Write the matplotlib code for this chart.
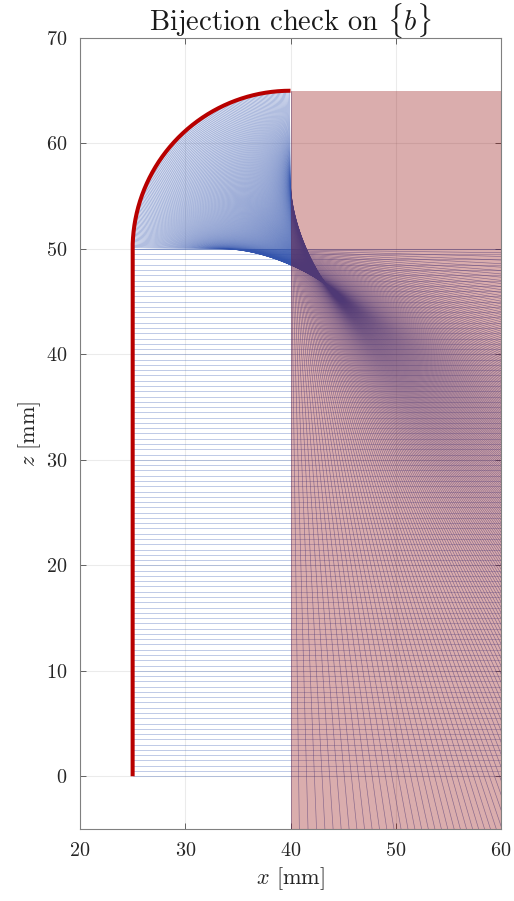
import numpy as np
import matplotlib
matplotlib.use("Agg")
import matplotlib.pyplot as plt
from matplotlib.collections import LineCollection
from matplotlib.patches import Rectangle

plt.rcParams['font.family'] = 'serif'
plt.rcParams['font.serif'] = ['cmr10']
plt.rcParams['mathtext.fontset'] = 'cm'
plt.rcParams['axes.formatter.use_mathtext'] = True

# geometry of curve {b} (mm)
wall_x = 25.0
wall_z = [0.0, 50.0]
arc_center = (40.0, 50.0)
arc_radius = 15.0
n_wall_lines = 101
n_arc_lines = 200

# focusing of the arc rays: rate of direction change (mid value, edge excess, exponent)
rate_mid = 0.75
rate_edge = 1.0
rate_pow = 3

# shaded target region
shade_x = [40.0, 60.0]
shade_z = [-5.0, 65.0]

xticks = [20, 30, 40, 50, 60]
zticks = [0, 10, 20, 30, 40, 50, 60, 70]

ray_len = 200.0

fig = plt.figure(figsize=(5.14, 9.01), dpi=100)
ax = fig.add_axes([80 / 514, 72 / 901, 421 / 514, 791 / 901])

# rays from the straight wall
zw = np.linspace(wall_z[0], wall_z[1], n_wall_lines)
wall_segs = [[(wall_x, z), (wall_x + ray_len, z)] for z in zw]

# rays from the arc
t = np.linspace(0, 1, n_arc_lines)
th = np.pi - 0.5 * np.pi * t
px = arc_center[0] + arc_radius * np.cos(th)
pz = arc_center[1] + arc_radius * np.sin(th)
u = 2 * t - 1
k = rate_pow + 1
phi = -0.5 * np.pi * (rate_mid * t + rate_edge * (np.sign(u) * np.abs(u) ** k + 1) / (2 * k))
arc_segs = []
for x0, z0, f in zip(px, pz, phi):
    arc_segs.append([(x0, z0), (x0 + ray_len * np.cos(f), z0 + ray_len * np.sin(f))])

ax.add_collection(LineCollection(wall_segs, colors=[(0.22, 0.36, 0.7, 0.5)],
                                 linewidths=0.45, zorder=2))
ax.add_collection(LineCollection(arc_segs, colors=[(0.2, 0.33, 0.68, 0.6)],
                                 linewidths=0.45, zorder=2))

ax.add_patch(Rectangle((shade_x[0], shade_z[0] - 5), shade_x[1] - shade_x[0],
                       shade_z[1] - shade_z[0] + 5, facecolor=(0.55, 0.0, 0.0),
                       alpha=0.32, edgecolor='none', zorder=3))

# red curve {b}
tb = np.linspace(0, 1, 200)
thb = np.pi - 0.5 * np.pi * tb
bx = np.concatenate([[wall_x, wall_x], arc_center[0] + arc_radius * np.cos(thb)])
bz = np.concatenate([[wall_z[0], wall_z[1]], arc_center[1] + arc_radius * np.sin(thb)])
ax.plot(bx, bz, color=(0.72, 0.0, 0.0), lw=2.9, zorder=4, solid_capstyle='butt')

ax.set_xlim(20, 60)
ax.set_ylim(-5, 70)
ax.set_xticks(xticks)
ax.set_yticks(zticks)
ax.grid(True, color=(0.15, 0.15, 0.15), alpha=0.09, lw=0.8)
ax.set_axisbelow(True)
ax.tick_params(direction='in', top=True, right=True, length=4, width=0.6,
               color='0.3', labelsize=14.5, labelcolor='0.15', pad=9)
for s in ax.spines.values():
    s.set_color('0.5')
    s.set_linewidth(0.8)

ax.set_xlabel(r'$x$ [mm]', fontsize=16, color='0.15', labelpad=4)
ax.set_ylabel(r'$z$ [mm]', fontsize=16, color='0.15', labelpad=2)
ax.set_title(r'Bijection check on $\{b\}$', fontsize=20.5, color='0.1', pad=5)

fig.savefig('out.png', dpi=100)
